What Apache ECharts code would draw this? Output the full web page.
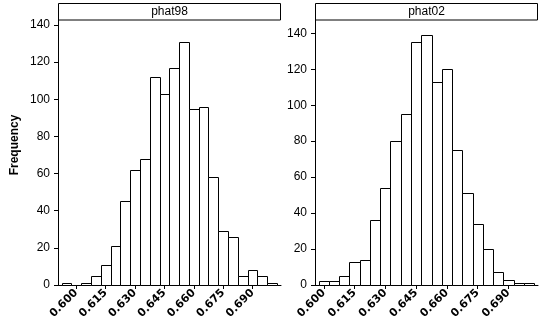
<!DOCTYPE html>
<html>
<head>
<meta charset="utf-8">
<script src="https://cdn.jsdelivr.net/npm/echarts@6/dist/echarts.min.js"></script>
<style>html,body{margin:0;padding:0;background:#fff}#c{width:551px;height:332px}</style>
</head>
<body>
<div id="c"></div>
<script>
// Panel titles
const panelTitles = ['phat98', 'phat02'];
// Bin centers (bin width 0.005)
const binWidth = 0.005;
const centers98 = [0.595,0.600,0.605,0.610,0.615,0.620,0.625,0.630,0.635,0.640,0.645,0.650,0.655,0.660,0.665,0.670,0.675,0.680,0.685,0.690,0.695,0.700];
const counts98  = [1,0,1,5,11,21,45,62,68,112,103,117,131,95,96,58,29,26,5,8,5,1];
const centers02 = [0.600,0.605,0.610,0.615,0.620,0.625,0.630,0.635,0.640,0.645,0.650,0.655,0.660,0.665,0.670,0.675,0.680,0.685,0.690,0.695,0.700];
const counts02  = [2,2,5,13,14,36,54,80,95,135,139,113,120,75,51,34,20,7,3,1,1];
// Tick labels
const xTicks = [0.600,0.615,0.630,0.645,0.660,0.675,0.690];
const yTicks = [0,20,40,60,80,100,120,140];
const yTitle = 'Frequency';

const chart = echarts.init(document.getElementById('c'), null, {renderer:'canvas'});

function toData(c, v){ return c.map((x,i)=>[x, v[i]]); }

function renderBar(params, api){
  const c = api.value(0), v = api.value(1);
  if (!v) return null;
  const p0 = api.coord([c - binWidth/2, 0]);
  const p1 = api.coord([c + binWidth/2, v]);
  const x0 = Math.round(p0[0]) + 0.5, x1 = Math.round(p1[0]) + 0.5;
  const yb = Math.round(p0[1]) + 0.5, yt = Math.round(p1[1]) + 0.5;
  return {type:'rect', shape:{x:x0, y:yt, width:x1-x0, height:yb-yt},
          style:{fill:'#fff', stroke:'#000', lineWidth:1}};
}

const font = 'Liberation Sans, Arial, sans-serif';
const axisCommonX = (min,max,idx)=>({
  type:'value', gridIndex:idx, min:min, max:max,
  splitLine:{show:false},
  axisLine:{show:true, lineStyle:{color:'#000', width:1}},
  axisTick:{show:true, length:4, customValues:xTicks, lineStyle:{color:'#000'}},
  axisLabel:{customValues:xTicks, rotate:45, margin:6, fontSize:11, fontWeight:'bold', color:'#000',
             fontFamily:'DejaVu Sans, sans-serif', formatter:v=>v.toFixed(3)}
});
const axisCommonY = (max,idx)=>({
  type:'value', gridIndex:idx, min:0, max:max,
  splitLine:{show:false},
  axisLine:{show:true, lineStyle:{color:'#000', width:1}},
  axisTick:{show:true, length:4, customValues:yTicks, lineStyle:{color:'#000'}},
  axisLabel:{customValues:yTicks, margin:8, fontSize:12, color:'#000', fontFamily:font}
});

const option = {
  animation:false,
  backgroundColor:'#fff',
  grid:[
    {left:58, right:270, top:20, bottom:47},
    {left:315, right:13, top:20, bottom:47}
  ],
  xAxis:[ axisCommonX(0.5907,0.7045,0), axisCommonX(0.5957,0.7044,1) ],
  yAxis:[ axisCommonY(142.7,0), axisCommonY(147.4,1) ],
  series:[
    {type:'custom', xAxisIndex:0, yAxisIndex:0, data:toData(centers98,counts98), renderItem:renderBar, clip:false},
    {type:'custom', xAxisIndex:1, yAxisIndex:1, data:toData(centers02,counts02), renderItem:renderBar, clip:false}
  ],
  graphic:[
    {type:'rect', shape:{x:58.5, y:3.5, width:222, height:16.5}, style:{fill:'#fff', stroke:'#000', lineWidth:1}},
    {type:'text', x:169.5, y:12, style:{text:panelTitles[0], font:'12px '+font, fill:'#000', align:'center', verticalAlign:'middle'}},
    {type:'rect', shape:{x:315.5, y:3.5, width:222, height:16.5}, style:{fill:'#fff', stroke:'#000', lineWidth:1}},
    {type:'text', x:426.5, y:12, style:{text:panelTitles[1], font:'12px '+font, fill:'#000', align:'center', verticalAlign:'middle'}},
    {type:'text', x:15, y:145, rotation:Math.PI/2, style:{text:yTitle, font:'bold 12px '+font, fill:'#000', align:'center', verticalAlign:'middle'}}
  ]
};
chart.setOption(option);
</script>
</body>
</html>
